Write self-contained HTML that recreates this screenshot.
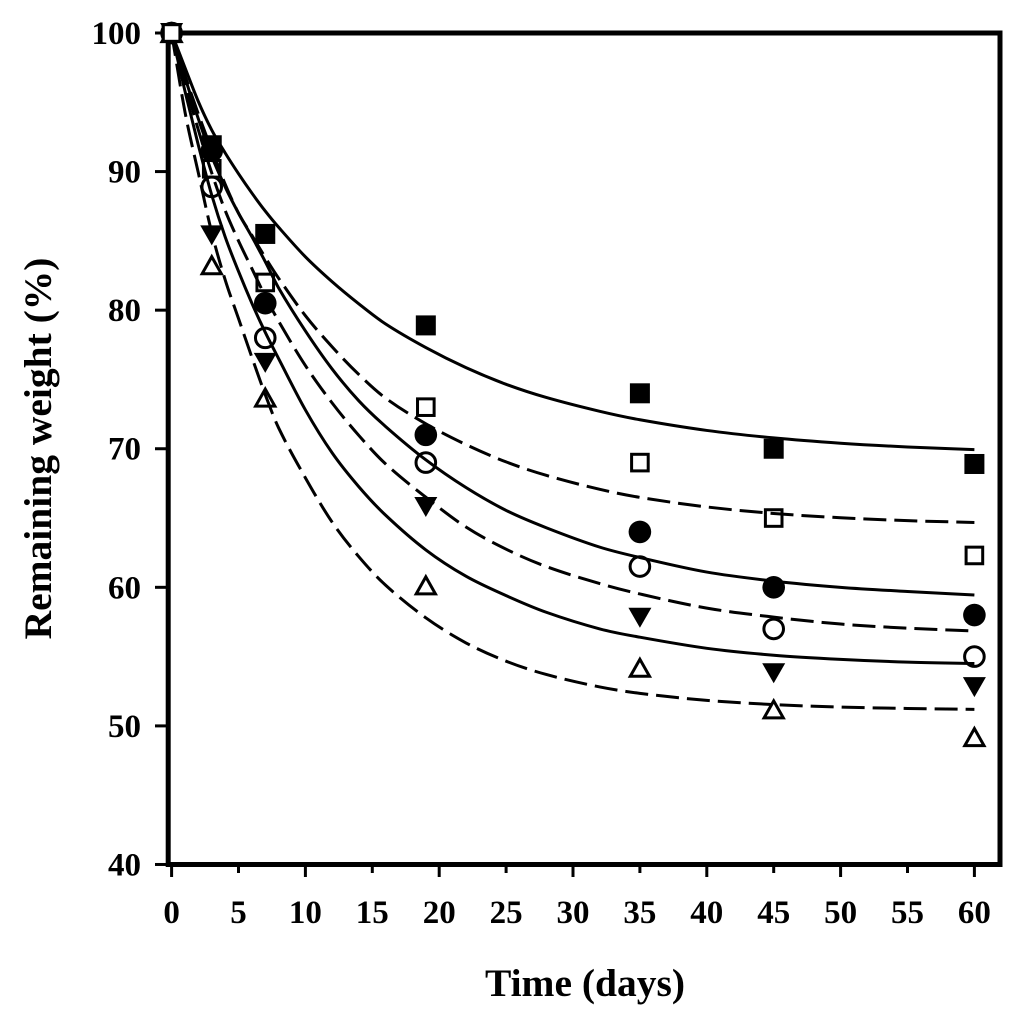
<!DOCTYPE html>
<html lang="en">
<head>
<meta charset="utf-8">
<title>Remaining weight over time</title>
<style>
html,body{margin:0;padding:0;background:#fff;}
svg{display:block;}
text{font-family:"Liberation Serif",serif;font-weight:bold;fill:#000;}
</style>
</head>
<body>
<svg id="chart" xmlns="http://www.w3.org/2000/svg" width="1024" height="1026" viewBox="0 0 1024 1026">
  <rect x="0" y="0" width="1024" height="1026" fill="#fff"/>
  <g id="curves"></g>
  <g id="markers"></g>
  <g id="axes"></g>
  <text x="585" y="996" font-size="39.5" text-anchor="middle">Time (days)</text>
  <text transform="translate(51 448.5) rotate(-90)" font-size="39.5" text-anchor="middle">Remaining weight (%)</text>
</svg>
<script>
const xTickValues = [0,5,10,15,20,25,30,35,40,45,50,55,60];
const yTickValues = [40,50,60,70,80,90,100];

const curveDays = [0,1,2,3,4,5,6,7,8,10,12,14,16,19,22,25,28,32,35,40,45,50,55,60];
const curveSolidTop = [100,97.5,95.05,93.0,91.35,89.85,88.45,87.15,85.98,83.85,82.05,80.45,79.0,77.3,75.85,74.65,73.7,72.70,72.09,71.32,70.78,70.40,70.13,69.94];
const curveDashedTop = [100,96.95,94.15,91.55,89.1,87.0,85.4,83.8,82.3,79.6,77.35,75.35,73.65,71.8,70.3,69.05,68.08,67.07,66.49,65.80,65.33,65.02,64.81,64.68];
const curveSolidMid = [100,96.8,93.8,91.1,88.9,87.0,85.3,83.5,81.6,78.5,75.75,73.45,71.6,69.2,67.2,65.55,64.3,62.90,62.15,61.1,60.45,60.0,59.7,59.45];
const curveDashedMid = [100,96.4,93.0,89.9,87.2,85.0,83.0,81.0,79.2,76.0,73.3,70.95,68.9,66.5,64.35,62.75,61.5,60.27,59.52,58.5,57.85,57.35,57.05,56.85];
const curveSolidLow = [100,95.8,91.9,88.3,85.3,82.8,80.5,78.4,76.5,72.8,69.7,67.25,65.2,62.7,60.8,59.4,58.2,57.0,56.4,55.6,55.1,54.8,54.6,54.5];
const curveDashedLow = [100,94.3,89.9,85.6,82.2,79.4,76.6,73.9,71.5,67.9,64.7,62.2,60.15,57.8,55.99,54.67,53.71,52.81,52.35,51.84,51.54,51.36,51.26,51.19];

const markerDays = [0,3,7,19,35,45,60];
const filledSquareValues = [100,91.9,85.5,78.9,74,70,68.9];
const openSquareValues = [100,90.2,82,73,69,65,62.3];
const filledCircleValues = [100,91.5,80.5,71,64,60,58];
const openCircleValues = [100,88.9,78,69,61.5,57,55];
const filledTriangleValues = [100,85.4,76.2,65.8,57.8,53.8,52.8];
const openTriangleValues = [100,83.25,73.7,60.15,54.2,51.2,49.2];

const SVG_NS = 'http://www.w3.org/2000/svg';
function xScale(d){ return 171.6 + d * 13.38; }
function yScale(v){ return 33 + (100 - v) * 13.858; }
function make(tag, attrs, parent){
  const el = document.createElementNS(SVG_NS, tag);
  for (const k in attrs) el.setAttribute(k, attrs[k]);
  parent.appendChild(el);
  return el;
}
function smoothPath(days, values){
  const p = values.map(function(v, i){ return [xScale(days[i]), yScale(v)]; });
  let d = 'M' + p[0][0].toFixed(2) + ' ' + p[0][1].toFixed(2);
  for (let i = 0; i < p.length - 1; i++) {
    const a = p[Math.max(i - 1, 0)], b = p[i], c = p[i + 1], e = p[Math.min(i + 2, p.length - 1)];
    const h = c[0] - b[0];
    const m1 = (c[1] - a[1]) / (c[0] - a[0]);
    const m2 = (e[1] - b[1]) / (e[0] - b[0]);
    d += 'C' + (b[0] + h / 3).toFixed(2) + ' ' + (b[1] + m1 * h / 3).toFixed(2) + ' ' +
         (c[0] - h / 3).toFixed(2) + ' ' + (c[1] - m2 * h / 3).toFixed(2) + ' ' +
         c[0].toFixed(2) + ' ' + c[1].toFixed(2);
  }
  return d;
}

const curvesGroup = document.getElementById('curves');
const curveSeries = [
  ['curve-solid-top', curveSolidTop, false],
  ['curve-dashed-top', curveDashedTop, true],
  ['curve-solid-mid', curveSolidMid, false],
  ['curve-dashed-mid', curveDashedMid, true],
  ['curve-solid-low', curveSolidLow, false],
  ['curve-dashed-low', curveDashedLow, true]
];
curveSeries.forEach(function(s){
  const line = make('path', {d: smoothPath(curveDays, s[1]), fill: 'none', stroke: '#000', 'stroke-width': 3, 'stroke-linejoin': 'round'}, curvesGroup);
  if (s[2]) line.setAttribute('stroke-dasharray', '23 8');
  
  
});

const markerGroup = document.getElementById('markers');
function drawMarker(kind, open, cx, cy, white){
  const fill = open ? (white ? '#fff' : 'none') : '#000';
  const sw = open ? 3 : 0;
  let el;
  if (kind === 'square') {
    const half = open ? 8.3 : 10;
    el = make('rect', {x: cx - half, y: cy - half, width: half * 2, height: half * 2}, markerGroup);
  } else if (kind === 'circle') {
    el = make('circle', {cx: cx, cy: cy, r: open ? 9.8 : 11.3}, markerGroup);
  } else if (kind === 'down') {
    el = make('polygon', {points: (cx-11.5)+','+(cy-10)+' '+(cx+11.5)+','+(cy-10)+' '+cx+','+(cy+10)}, markerGroup);
  } else {
    el = make('polygon', {points: (cx-9.6)+','+(cy+8.6)+' '+(cx+9.6)+','+(cy+8.6)+' '+cx+','+(cy-8.4)}, markerGroup);
  }
  el.setAttribute('fill', fill);
  el.setAttribute('stroke', '#000');
  el.setAttribute('stroke-width', sw);
  return el;
}
const markerSeries = [
  ['open-triangle', 'up', true, openTriangleValues],
  ['filled-triangle', 'down', false, filledTriangleValues],
  ['filled-circle', 'circle', false, filledCircleValues],
  ['open-circle', 'circle', true, openCircleValues],
  ['open-square', 'square', true, openSquareValues],
  ['filled-square', 'square', false, filledSquareValues]
];
markerSeries.forEach(function(s){
  s[3].forEach(function(v, i){
    if (i === 0) return;
    const m = drawMarker(s[1], s[2], xScale(markerDays[i]), yScale(v), false);
    
    
  });
});

const axesGroup = document.getElementById('axes');
const frame = make('rect', {x: 168.2, y: 33, width: 831.8, height: 831.5, fill: 'none', stroke: '#000', 'stroke-width': 5}, axesGroup);



yTickValues.forEach(function(v){
  const y = yScale(v);
  const tick = make('line', {x1: 155, x2: 168, y1: y, y2: y, stroke: '#000', 'stroke-width': 3}, axesGroup);
  
  
  const label = make('text', {x: 141, y: y + 11, 'font-size': 33, 'text-anchor': 'end'}, axesGroup);
  label.textContent = String(v);
  
  
});
xTickValues.forEach(function(d){
  const x = xScale(d);
  const isMajor = d % 10 === 0;
  const tick = make('line', {x1: x, x2: x, y1: 866, y2: isMajor ? 877 : 873, stroke: '#000', 'stroke-width': 3}, axesGroup);
  
  
  const label = make('text', {x: x, y: 923, 'font-size': 33, 'text-anchor': 'middle'}, axesGroup);
  label.textContent = String(d);
  
  
});

/* day-zero markers sit on top of the frame, open square last */
markerSeries.slice().sort(function(a, b){
  return (a[0] === 'open-square') - (b[0] === 'open-square');
}).forEach(function(s){
  const m = drawMarker(s[1], s[2], xScale(markerDays[0]), yScale(s[3][0]), true);
  markerGroup.parentNode.appendChild(m);
  
  
});
</script>
</body>
</html>
